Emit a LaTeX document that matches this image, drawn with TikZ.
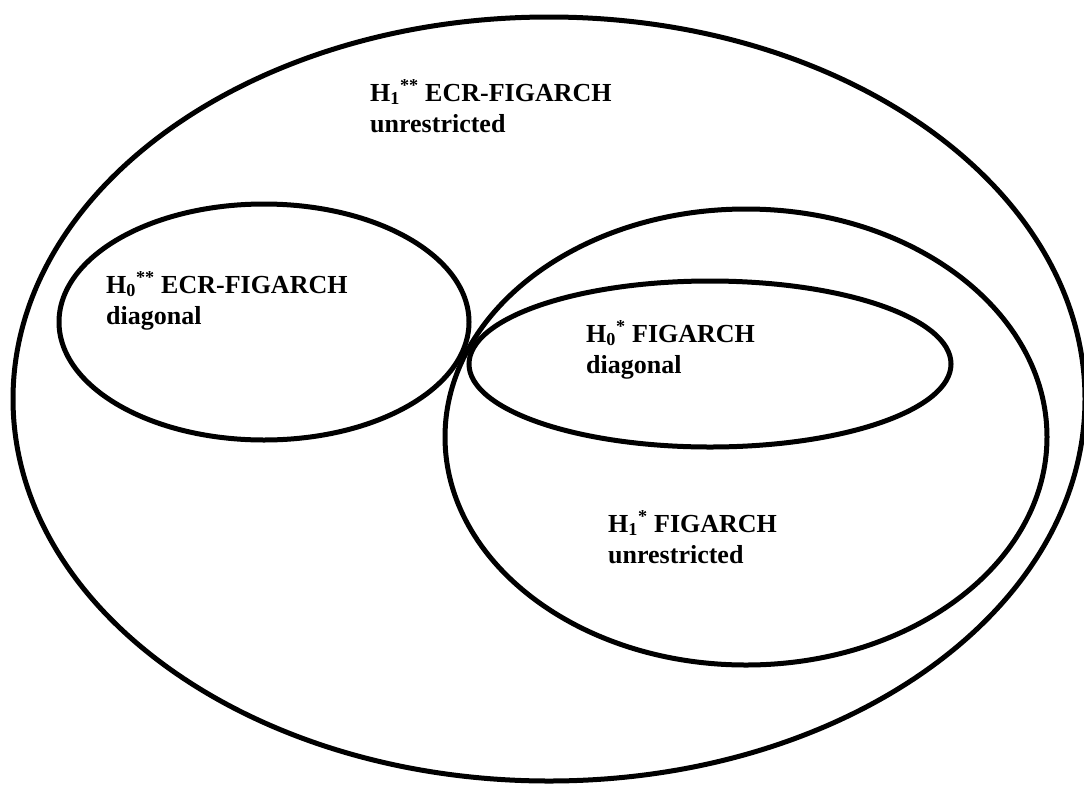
\documentclass[tikz,border=0pt]{standalone}
\usepackage{fontspec}
\setmainfont{Liberation Serif}
\begin{document}
\begin{tikzpicture}[x=1pt,y=-1pt,
  ring/.style={draw=black,line width=5pt},
  lbl/.style={anchor=base west,align=left,inner sep=0pt,font=\fontsize{26}{31}\selectfont\bfseries}]
\useasboundingbox (0,0) rectangle (1084,785);
\draw[ring] (549,399) ellipse [x radius=536, y radius=382];
\draw[ring] (264,322) ellipse [x radius=205, y radius=118];
\draw[ring] (746,437) ellipse [x radius=301, y radius=228];
\draw[ring] (710,364) ellipse [x radius=241, y radius=83];
\node[lbl] (t1) at (370,132) {H\textsubscript{1}\textsuperscript{**} ECR-FIGARCH\\unrestricted};
\node[lbl] (t2) at (106,324) {H\textsubscript{0}\textsuperscript{**} ECR-FIGARCH\\diagonal};
\node[lbl] (t3) at (586,373) {H\textsubscript{0}\textsuperscript{*} FIGARCH\\diagonal};
\node[lbl] (t4) at (608,563) {H\textsubscript{1}\textsuperscript{*} FIGARCH\\unrestricted};
\end{tikzpicture}
\end{document}
